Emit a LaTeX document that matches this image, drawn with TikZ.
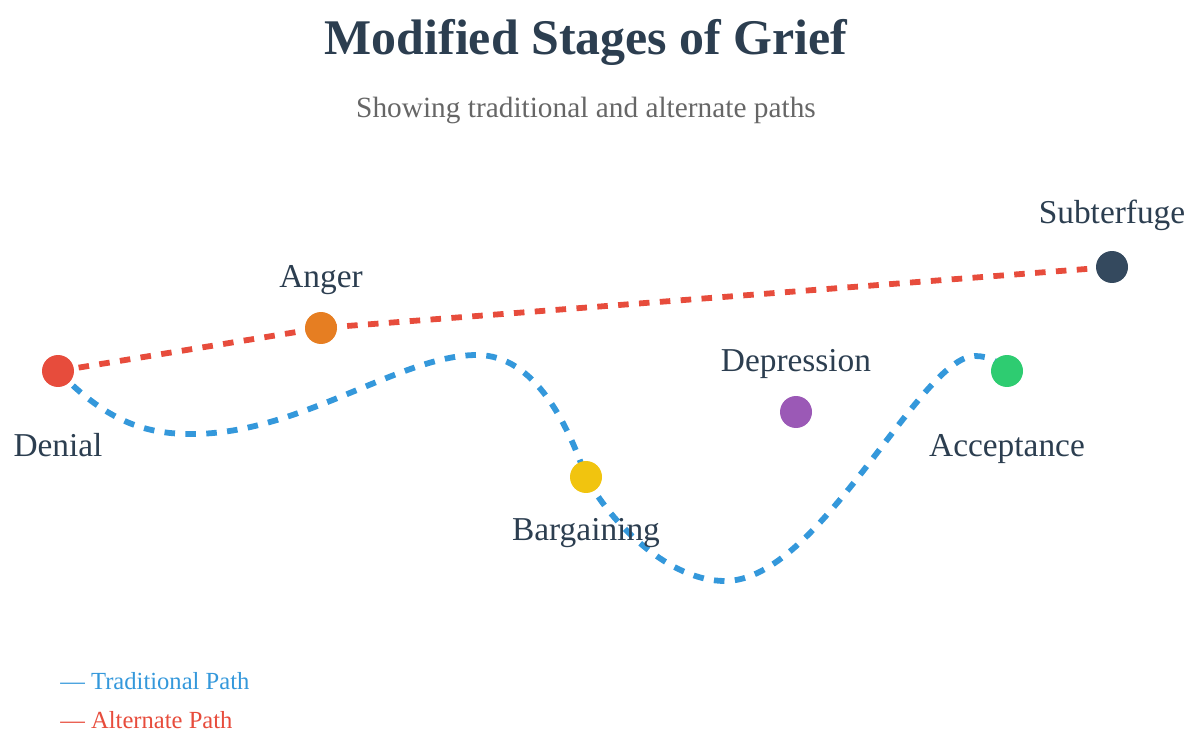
\documentclass[tikz,border=0pt]{standalone}
\usepackage{fontspec}
\setmainfont{Liberation Serif}
\usepackage{tikz}
\usetikzlibrary{positioning,backgrounds}
\usepackage{xcolor}
\definecolor{inkdark}{HTML}{2C3E50}
\definecolor{subgray}{HTML}{666666}
\definecolor{tradblue}{HTML}{3498DB}
\definecolor{altred}{HTML}{E74C3C}
\definecolor{angerorange}{HTML}{E67E22}
\definecolor{bargainyellow}{HTML}{F1C40F}
\definecolor{depresspurple}{HTML}{9B59B6}
\definecolor{acceptgreen}{HTML}{2ECC71}
\definecolor{subterslate}{HTML}{34495E}

\begin{document}
\begin{tikzpicture}[x=0.02cm, y=-0.02cm,
  stagedot/.style={circle, inner sep=0pt, minimum size=0.64cm, fill=#1},
  stagelabel/.style={anchor=base, text=inkdark, font=\fontsize{19pt}{22pt}\selectfont},
  legendtext/.style={anchor=base west, inner sep=0pt, text=#1, font=\fontsize{14pt}{17pt}\selectfont},
  pathline/.style={draw=#1, line width=3.3pt, dash pattern=on 6pt off 5.9pt}]
  \useasboundingbox (0,0) rectangle (1200,743);

  % heading
  \node[anchor=base, text=inkdark, font=\fontsize{28.4pt}{34pt}\selectfont\bfseries] (title) at (586,55) {Modified Stages of Grief};
  \node[anchor=base, text=subgray, font=\fontsize{16.7pt}{20pt}\selectfont] (subtitle) at (586,118) {Showing traditional and alternate paths};

  % stages
  \node[stagedot=altred] (denial) at (58,371) {};
  \node[stagedot=angerorange] (anger) at (321,328) {};
  \node[stagedot=subterslate] (subterfuge) at (1112,267) {};
  \node[stagedot=bargainyellow] (bargaining) at (586,477) {};
  \node[stagedot=depresspurple] (depression) at (796,412) {};
  \node[stagedot=acceptgreen] (acceptance) at (1007,371) {};

  \node[stagelabel] (denialtext) at (58,456) {Denial};
  \node[stagelabel] (angertext) at (321,287) {Anger};
  \node[stagelabel] (subterfugetext) at (1112,224) {Subterfuge};
  \node[stagelabel] (bargainingtext) at (586,540) {Bargaining};
  \node[stagelabel] (depressiontext) at (796,371) {Depression};
  \node[stagelabel] (acceptancetext) at (1007,456) {Acceptance};

  % paths behind the dots
  \begin{scope}[on background layer]
    \draw[pathline=altred] (denial.center) -- (anger.center) -- (subterfuge.center);
    \draw[pathline=tradblue] (denial.center)
      .. controls (110,425) and (150,434) .. (192,434)
      .. controls (300,434) and (400,355) .. (477,355)
      .. controls (535,355) and (568,425) .. (bargaining.center)
      .. controls (612,525) and (670,581) .. (725,581)
      .. controls (820,581) and (920,356) .. (975,356)
      .. controls (990,356) and (1000,363) .. (acceptance.center);
  \end{scope}

  % legend
  \node[legendtext=tradblue] (legendtrad) at (60,689) {— Traditional Path};
  \node[legendtext=altred] (legendalt) at (60,728) {— Alternate Path};
\end{tikzpicture}
\end{document}
